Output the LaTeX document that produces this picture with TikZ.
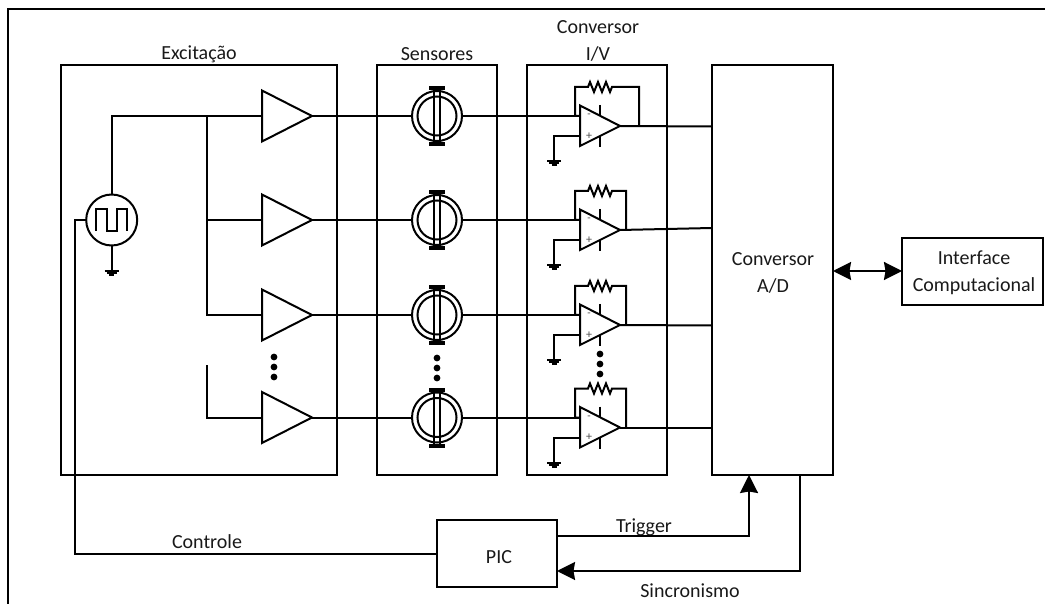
\documentclass[tikz,border=0pt]{standalone}
\usepackage{fontspec}
\setmainfont{Carlito}
\usetikzlibrary{arrows.meta}
\tikzset{
  wire/.style={line width=2pt, line join=miter, line cap=butt},
  blockbox/.style={draw, line width=2pt, rectangle, inner sep=0pt, outer sep=0pt},
  lab/.style={font=\fontsize{20}{27}\selectfont, inner sep=0pt, align=center, text=black!90},
  tip/.style={-{Stealth[length=18pt,width=18pt,inset=1.5pt]}},
  dtip/.style={{Stealth[length=18pt,width=18pt,inset=1.5pt]}-{Stealth[length=18pt,width=18pt,inset=1.5pt]}},
  pics/amp/.style={code={
    \draw[wire] (0,-25.5) -- (50,0) -- (0,25.5) -- cycle;
    \coordinate (-in) at (0,0);
    \coordinate (-out) at (50,0);
  }},
  pics/sensor/.style={code={
    \draw[wire] (0,0) circle (25);
    \draw[wire] (0,0) circle (19.5);
    \draw[wire] (-3.4,-28) -- (-3.4,28) (3.4,-28) -- (3.4,28);
    \fill (-8,-30) rectangle (8,-26);
    \fill (-8,26) rectangle (8,30);
    \coordinate (-in) at (-25,0);
    \coordinate (-out) at (25,0);
  }},
  pics/gnd/.style={code={
    \draw[line width=2pt] (-7,1) -- (7,1);
    \draw[line width=2pt] (-5,3) -- (5,3);
    \draw[line width=2pt] (-2.5,5) -- (2.5,5);
  }},
  pics/opamp/.style={code={
    \draw[wire] (-40,-20.5) -- (0,0) -- (-40,20) -- cycle;
    \draw[wire] (-20,-21) -- (-20,-10) (-20,10) -- (-20,21);
    \node[font=\fontsize{11}{11}\selectfont, inner sep=0pt, text=black!70] at (-31,-10) {-};
    \node[font=\fontsize{12}{12}\selectfont, inner sep=0pt, text=black!70] at (-31,10) {+};
    \draw[wire] (-40,-10) -- (-45,-10) -- (-45,-39) -- (-32,-39)
      -- (-30,-44) -- (-26,-34) -- (-22,-44) -- (-18,-34) -- (-14,-44) -- (-10,-34) -- (-8,-39)
      -- (#1,-39) -- (#1,0);
    \draw[wire] (0,0) -- (#1,0);
    \draw[wire] (-40,10) -- (-66,10) -- (-66,34);
    \pic at (-66,34) {gnd};
    \coordinate (-in) at (-40,-10);
    \coordinate (-out) at (0,0);
  }},
  pics/vdots/.style={code={
    \fill (0,0) circle (3.4) (0,10) circle (3.4) (0,20) circle (3.4);
  }},
}
\begin{document}
\begin{tikzpicture}[x=1pt,y=-1pt]
\useasboundingbox (0,0) rectangle (1045,604);
\coordinate (fa) at (8,604);
\coordinate (fb) at (8,9);
\coordinate (fc) at (1045,9);
\draw[wire] (fa) -- (fb) -- (fc);

\node[blockbox, minimum width=276pt, minimum height=410pt] (exc) at (199,270) {};
\node[blockbox, minimum width=120pt, minimum height=410pt] (sen) at (437,270) {};
\node[blockbox, minimum width=140pt, minimum height=410pt] (ivc) at (597,270) {};
\node[blockbox, minimum width=121pt, minimum height=410pt] (adc) at (772.5,270) {};
\node[blockbox, minimum width=141pt, minimum height=67pt] (ifc) at (972.5,271.5) {};
\node[blockbox, minimum width=120pt, minimum height=67pt] (mcu) at (497,553.5) {};

\node[lab] (texc) at (199,54) {Excitação};
\node[lab] (tsen) at (437,54) {Sensores};
\node[lab] (tivc) at (598,41) {Conversor\\I/V};
\node[lab] (tadc) at (773,272.5) {Conversor\\A/D};
\node[lab] (tifc) at (974,273) {Interface\\Computacional};
\node[lab] (tmcu) at (499,557) {PIC};
\node[lab] (tctl) at (207,542) {Controle};
\node[lab] (ttrg) at (644,527) {Trigger};
\node[lab] (tsyn) at (690,591) {Sincronismo};

% source
\node[draw, wire, circle, minimum size=51pt, inner sep=0pt, outer sep=0pt] (src) at (111.7,220) {};
\draw[line width=2pt] (96,231) -- (96,209) -- (107,209) -- (107,231) -- (117,231) -- (117,209) -- (127,209) -- (127,231);
\coordinate (gs) at (111.7,270);
\draw[wire] (src.south) -- (gs);
\pic at (gs) {gnd};

% amplifiers
\pic (a1) at (262,116) {amp};
\pic (a2) at (262,220) {amp};
\pic (a3) at (262,315) {amp};
\pic (a4) at (262,417.5) {amp};
\pic at (274,357) {vdots};

% sensors
\pic (s1) at (437,116) {sensor};
\pic (s2) at (437,220) {sensor};
\pic (s3) at (437,315) {sensor};
\pic (s4) at (437,417.5) {sensor};
\pic at (437,358) {vdots};

% op amps
\pic (o1) at (620,126) {opamp=19};
\pic (o2) at (620,230) {opamp=6};
\pic (o3) at (620,325) {opamp=6};
\pic (o4) at (620,427.5) {opamp=6};
\pic at (600,354) {vdots};

% excitation wiring
\coordinate (bt) at (207,116);
\coordinate (b2) at (207,220);
\coordinate (b3) at (207,315);
\coordinate (b4t) at (207,365);
\coordinate (b4) at (207,417.5);
\draw[wire] (src.north) |- (a1-in);
\draw[wire] (bt) -- (b3) -- (a3-in);
\draw[wire] (b2) -- (a2-in);
\draw[wire] (b4t) -- (b4) -- (a4-in);
\foreach \n in {1,2,3,4} {
  \draw[wire] (a\n-out) -- (s\n-in);
  \draw[wire] (s\n-out) -- (o\n-in);
}
\coordinate (ad1) at (adc.west |- 0,126.5);
\coordinate (ad2) at (adc.west |- 0,228);
\coordinate (ad3) at (adc.west |- 0,325.5);
\coordinate (ad4) at (adc.west |- 0,427.5);
\foreach \n in {1,2,3,4} \draw[wire] (o\n-out) -- (ad\n);

% control and links
\coordinate (c1) at (75,220);
\coordinate (c2) at (75,553.5);
\draw[wire] (src.west) -- (c1) -- (c2) -- (mcu.west);
\coordinate (t1) at (mcu.east |- 0,536);
\coordinate (t2) at (749,536);
\coordinate (t3) at (749,0 |- adc.south);
\draw[wire,tip] (t1) -- (t2) -- (t3);
\coordinate (y1) at (800,0 |- adc.south);
\coordinate (y2) at (800,571);
\coordinate (y3) at (mcu.east |- 0,571);
\draw[wire,tip] (y1) -- (y2) -- (y3);
\coordinate (l1) at (adc.east |- 0,271);
\coordinate (l2) at (ifc.west |- 0,271);
\draw[wire,dtip] (l1) -- (l2);
\end{tikzpicture}
\end{document}
